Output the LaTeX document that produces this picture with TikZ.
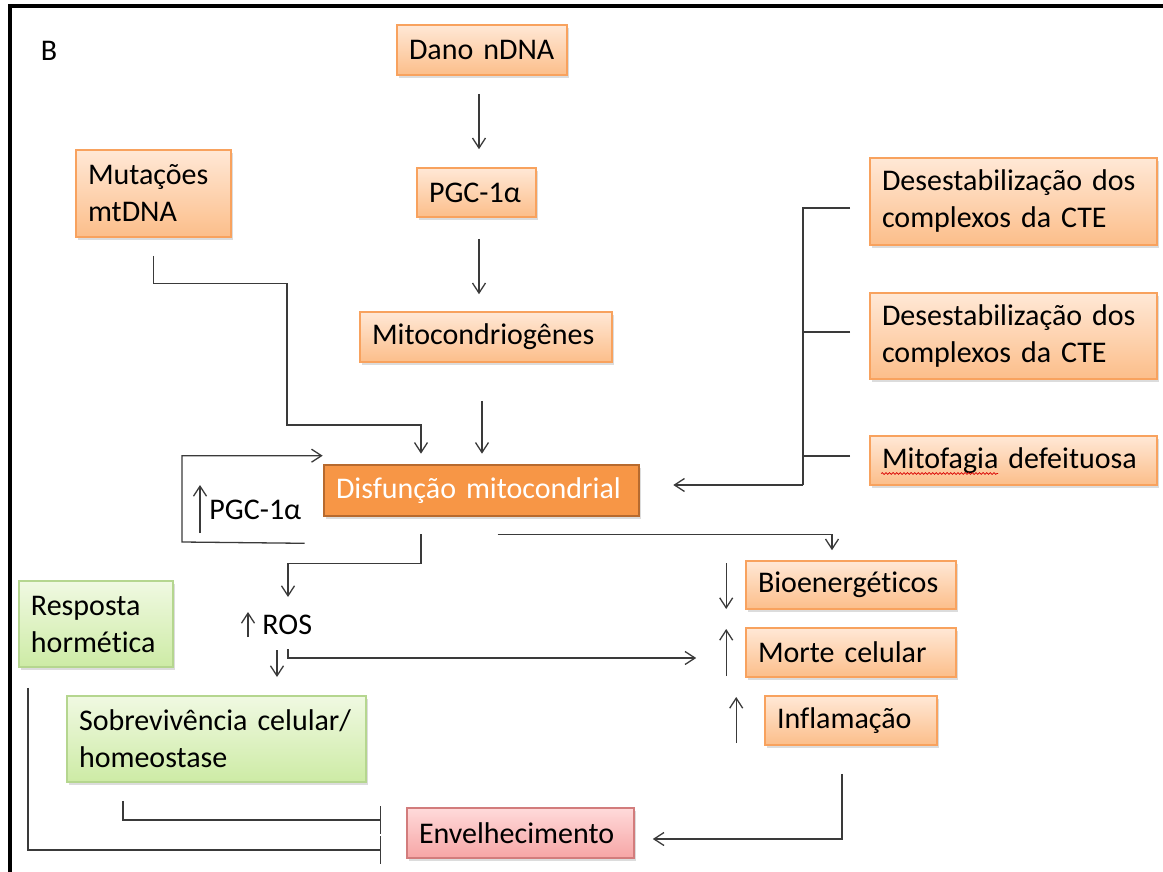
\documentclass[tikz,border=0pt]{standalone}
\usepackage{fontspec}
\setmainfont{Carlito}[Ligatures=NoCommon]
\usetikzlibrary{arrows.meta,shadows,decorations.pathmorphing}

\definecolor{oTop}{HTML}{FFE8D6}
\definecolor{oBot}{HTML}{FCBE8A}
\definecolor{oLine}{HTML}{F8A25E}
\definecolor{dFill}{HTML}{F79646}
\definecolor{dLine}{HTML}{B76A2E}
\definecolor{gTop}{HTML}{F0F9E2}
\definecolor{gBot}{HTML}{CDEBA5}
\definecolor{gLine}{HTML}{B5D68F}
\definecolor{rTop}{HTML}{FFDADA}
\definecolor{rBot}{HTML}{F6A5A5}
\definecolor{rLine}{HTML}{D27C7C}
\definecolor{wire}{HTML}{3A3A3A}

\begin{document}
\begin{tikzpicture}[x=0.5pt,y=-0.5pt,
  font=\fontsize{15}{18.5}\selectfont,
  ln/.style={draw=wire,line width=0.65pt},
  arr/.style={ln,-{Straight Barb[length=5pt,width=6.5pt]}},
  inh/.style={ln,-{Bar[width=14pt]}},
  base/.style={rectangle,line width=0.8pt,inner xsep=6pt,inner ysep=0pt,align=left,
    drop shadow={shadow xshift=1pt,shadow yshift=-1.3pt,opacity=0.28}},
  obox/.style={base,draw=oLine,top color=oTop,bottom color=oBot},
  gbox/.style={base,draw=gLine,top color=gTop,bottom color=gBot},
  rbox/.style={base,draw=rLine,top color=rTop,bottom color=rBot},
  dbox/.style={base,draw=dLine,fill=dFill,line width=1.3pt,text=white},
  plain/.style={anchor=west,inner sep=0pt}
]
\useasboundingbox (0,0) rectangle (1163,872);

% frame
\draw[line width=2pt,black] (10,872) -- (10,6.5) -- (1163,6.5);
\node (lblB) at (49,51) {B};

% boxes
\node[obox,text width=73pt,minimum height=25pt] (dano) at (482,50) {Dano nDNA};
\node[obox,text width=47.5pt,minimum height=24.5pt] (pgc) at (476.5,192.5) {PGC-1α};
\node[obox,text width=114pt,minimum height=25pt] (mito) at (486,337) {Mitocondriogênes};
\node[obox,text width=65.5pt,minimum height=43.5pt] (mut) at (153.5,193.5) {Mutações\\mtDNA};
\node[dbox,text width=145.5pt,minimum height=25.5pt] (dis) at (481.5,490.5) {Disfunção mitocondrial};
\node[obox,text width=131.5pt,minimum height=43.5pt] (des1) at (1013.5,201.5) {Desestabilização dos\\complexos da CTE};
\node[obox,text width=131.5pt,minimum height=43pt] (des2) at (1013.5,336) {Desestabilização dos\\complexos da CTE};
\node[obox,text width=131.5pt,minimum height=24.5pt] (mitof) at (1013.5,460.5) {Mitofagia defeituosa};
\node[obox,text width=93pt,minimum height=24pt] (bio) at (851,585) {Bioenergéticos};
\node[obox,text width=93pt,minimum height=24.5pt] (morte) at (851,652.5) {Morte celular};
\node[obox,text width=74pt,minimum height=24.5pt] (infl) at (851,720.5) {Inflamação};
\node[rbox,text width=101.5pt,minimum height=25pt] (env) at (520.5,833) {Envelhecimento};
\node[gbox,text width=65pt,minimum height=43pt] (resp) at (96,624) {Resposta\\hormética};
\node[gbox,text width=137.5pt,minimum height=43pt] (sobr) at (216.5,739) {Sobrevivência celular/\\homeostase};

% free labels
\node[plain] (pgcup) at (209,510) {PGC-1α};
\node[plain] (ros) at (262,625) {ROS};

% spelling underline under "Mitofagia"
\draw[red!85!black,line width=0.35pt,decorate,decoration={snake,amplitude=0.45pt,segment length=1.8pt}]
  ([xshift=6pt,yshift=-6.5pt]mitof.west) -- ([xshift=64.5pt,yshift=-6.5pt]mitof.west);

% central chain
\draw[arr,shorten <=9pt,shorten >=9pt] ([xshift=-1.5pt]dano.south) -- ([xshift=-1.5pt]dano.south |- pgc.north);
\draw[arr,shorten <=10.5pt,shorten >=8.5pt] ([xshift=1.25pt]pgc.south) -- ([xshift=1.25pt]pgc.south |- mito.north);
\draw[arr,shorten <=19pt,shorten >=5pt] ([xshift=-2pt]mito.south) -- ([xshift=-2pt]mito.south |- dis.north);

% mtDNA mutations
\draw[arr] ([yshift=-9pt]mut.south) -- ++(0,28) -| (287,425) -| ([xshift=-30.25pt,yshift=5pt]dis.north);

% feedback loop with PGC-1alpha
\draw[arr] ([xshift=-9pt,yshift=-13pt]dis.south west) -- (182,542) |- ([yshift=4pt]dis.north west);
\draw[arr] ([xshift=-4.5pt,yshift=-11.5pt]pgcup.west) -- ([xshift=-4.5pt,yshift=12.5pt]pgcup.west);

% right-hand causes
\coordinate (rb) at (803,485);
\draw[ln] ([xshift=-9.5pt,yshift=-3.25pt]des1.west) -| (rb);
\draw[ln] ([xshift=-9.5pt,yshift=2pt]des2.west) -- ++(-48,0);
\draw[ln] ([xshift=-9.5pt,yshift=2.25pt]mitof.west) -- ++(-48,0);
\draw[arr] (rb) -- ([xshift=16.5pt,yshift=2.75pt]dis.east);

% ROS branch
\draw[arr] ([xshift=-30.25pt,yshift=-8.5pt]dis.south) -- ++(0,29) -| ([xshift=13pt,yshift=14pt]ros.west);
\draw[arr] ([xshift=-7pt,yshift=-6pt]ros.west) -- ([xshift=-7pt,yshift=6.5pt]ros.west);
\draw[arr] ([xshift=7.5pt,yshift=-12.5pt]ros.west) -- ([xshift=7.5pt,yshift=-26pt]ros.west);
\draw[arr] ([xshift=13pt,yshift=-12pt]ros.west) -- ([xshift=13pt,yshift=-16.5pt]ros.west) -- ([xshift=-24.5pt,yshift=-2.75pt]morte.west);

% bioenergetic branch
\draw[arr] ([xshift=8pt,yshift=-8.5pt]dis.south) -| ([xshift=-9.5pt,yshift=5pt]bio.north);
\draw[arr] ([xshift=-9.5pt,yshift=11pt]bio.west) -- ([xshift=-9.5pt,yshift=-12pt]bio.west);
\draw[arr] ([xshift=-9.5pt,yshift=-11.75pt]morte.west) -- ([xshift=-9.5pt,yshift=11.75pt]morte.west);
\draw[arr] ([xshift=-14pt,yshift=-11.25pt]infl.west) -- ([xshift=-14pt,yshift=11.75pt]infl.west);

% ageing
\draw[arr] ([xshift=-4.5pt,yshift=-14pt]infl.south) |- ([xshift=9pt,yshift=-3pt]env.east);
\draw[inh] ([xshift=-46.75pt,yshift=-9pt]sobr.south) |- ([xshift=-12.5pt,yshift=6.5pt]env.west);
\draw[inh] ([xshift=-34pt,yshift=-10pt]resp.south) |- ([xshift=-12.5pt,yshift=-8.5pt]env.west);
\end{tikzpicture}
\end{document}
